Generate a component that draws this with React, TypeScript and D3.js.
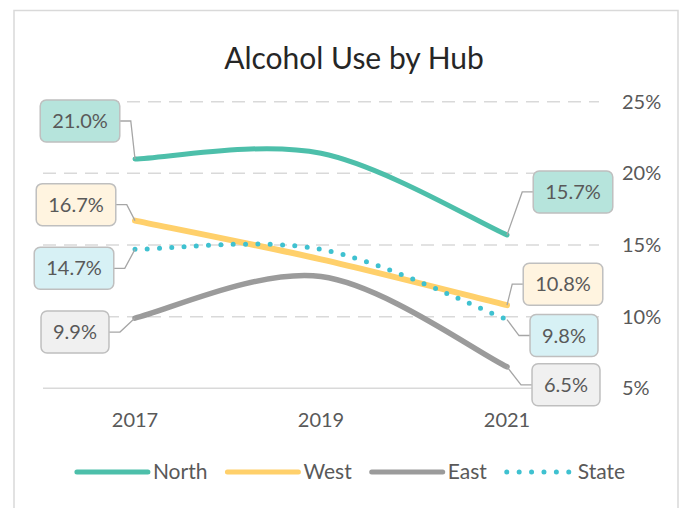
import { useRef, useEffect } from 'react';
import { select, scalePoint, scaleLinear, path } from 'd3';

const years = ['2017', '2019', '2021'];
const north = [21.0, 21.4, 15.7];
const west = [16.7, 14.0, 10.8];
const east = [9.9, 12.8, 6.5];
const state = [14.7, 14.7, 9.8];
const yTicks = [5, 10, 15, 20, 25];

const series = [
  { name: 'North', values: north, color: '#4dbfaa', fill: '#b6e4dc', width: 5, dotted: false },
  { name: 'West', values: west, color: '#ffd06b', fill: '#fff4e0', width: 6, dotted: false },
  { name: 'East', values: east, color: '#9b9b9b', fill: '#f0f0f0', width: 5.5, dotted: false },
  { name: 'State', values: state, color: '#3fc1d0', fill: '#d7f1f5', width: 5, dotted: true },
];

// label box centre relative to its point: [first year, last year]
const labelOffsets: Record<string, [number, number][]> = {
  North: [[-55, -38], [66, -43]],
  West: [[-59, -16], [56, -21]],
  East: [[-60, 14], [59, 18]],
  State: [[-61, 19], [57, 16]],
};

const FONT = 'Lato, "Open Sans", sans-serif';
const TEXT = '#595959';

// excel style smoothing: bezier with catmull-rom control points
const smoothPath = (pts: [number, number][]) => {
  const p = path();
  p.moveTo(pts[0][0], pts[0][1]);
  for (let i = 0; i < pts.length - 1; i++) {
    const p0 = pts[Math.max(i - 1, 0)];
    const p1 = pts[i];
    const p2 = pts[i + 1];
    const p3 = pts[Math.min(i + 2, pts.length - 1)];
    p.bezierCurveTo(
      p1[0] + (p2[0] - p0[0]) / 6,
      p1[1] + (p2[1] - p0[1]) / 6,
      p2[0] - (p3[0] - p1[0]) / 6,
      p2[1] - (p3[1] - p1[1]) / 6,
      p2[0],
      p2[1]
    );
  }
  return p.toString();
};

const App = () => {
  const ref = useRef<SVGSVGElement>(null);

  useEffect(() => {
    if (!ref.current) return;
    const svg = select(ref.current);
    svg.selectAll('*').remove();

    const x = scalePoint<string>().domain(years).range([42, 600]).padding(0.5);
    const y = scaleLinear().domain([5, 25]).range([388.3, 101.7]);

    svg
      .append('rect')
      .attr('x', 14)
      .attr('y', 10.5)
      .attr('width', 664)
      .attr('height', 520)
      .attr('fill', '#fff')
      .attr('stroke', '#d9d9d9')
      .attr('stroke-width', 1.5);

    svg
      .append('text')
      .attr('x', 354)
      .attr('y', 69)
      .attr('text-anchor', 'middle')
      .attr('font-family', FONT)
      .attr('font-size', 30)
      .attr('fill', '#262626')
      .text('Alcohol Use by Hub');

    // gridlines + axis line
    svg
      .append('g')
      .selectAll('line')
      .data(yTicks)
      .join('line')
      .attr('x1', 43)
      .attr('x2', 599)
      .attr('y1', (d) => y(d))
      .attr('y2', (d) => y(d))
      .attr('stroke', '#d9d9d9')
      .attr('stroke-width', 1.5)
      .attr('stroke-dasharray', (d) => (d === 5 ? null : '13 8'));

    svg
      .append('g')
      .selectAll('text')
      .data(yTicks)
      .join('text')
      .attr('x', 622)
      .attr('y', (d) => y(d) + 7)
      .attr('font-family', FONT)
      .attr('font-size', 20)
      .attr('fill', TEXT)
      .text((d) => `${d}%`);

    svg
      .append('g')
      .selectAll('text')
      .data(years)
      .join('text')
      .attr('x', (d) => x(d)!)
      .attr('y', 426.5)
      .attr('text-anchor', 'middle')
      .attr('font-family', FONT)
      .attr('font-size', 20)
      .attr('fill', TEXT)
      .text((d) => d);

    // lines
    series.forEach((s) => {
      const pts = s.values.map((v, i) => [x(years[i])!, y(v)] as [number, number]);
      svg
        .append('path')
        .attr('d', smoothPath(pts))
        .attr('fill', 'none')
        .attr('stroke', s.color)
        .attr('stroke-width', s.width)
        .attr('stroke-linecap', 'round')
        .attr('stroke-dasharray', s.dotted ? '0 12.3' : null);
    });

    // data labels at first and last year
    series.forEach((s) => {
      const ends = [0, s.values.length - 1];
      ends.forEach((idx, k) => {
        const px = x(years[idx])!;
        const py = y(s.values[idx]);
        const [dx, dy] = labelOffsets[s.name][k];
        const cx = px + dx;
        const cy = py + dy;
        const g = svg.append('g');
        const leader = g.append('path');
        const box = g.append('rect');
        const txt = g
          .append('text')
          .attr('x', cx)
          .attr('y', cy + 7)
          .attr('text-anchor', 'middle')
          .attr('font-family', FONT)
          .attr('font-size', 20)
          .attr('fill', TEXT)
          .text(`${s.values[idx].toFixed(1)}%`);
        const tw = (txt.node() as SVGTextElement).getComputedTextLength();
        const bw = tw + 24;
        const bh = 42;
        box
          .attr('x', cx - bw / 2)
          .attr('y', cy - bh / 2)
          .attr('width', bw)
          .attr('height', bh)
          .attr('rx', 6)
          .attr('fill', s.fill)
          .attr('stroke', '#bfbfbf')
          .attr('stroke-width', 1.5);
        const edge = k === 0 ? cx + bw / 2 : cx - bw / 2;
        const elbow = k === 0 ? edge + 11 : edge - 11;
        leader
          .attr('d', `M${edge},${cy}H${elbow}L${px},${py}`)
          .attr('fill', 'none')
          .attr('stroke', '#a6a6a6')
          .attr('stroke-width', 1.3);
      });
    });

    // legend
    const legend = svg.append('g');
    const items = series.map((s) => {
      const g = legend.append('g');
      const lineEnd = s.dotted ? 62 : 71;
      g.append('line')
        .attr('x1', 0)
        .attr('x2', lineEnd)
        .attr('y1', 472)
        .attr('y2', 472)
        .attr('stroke', s.color)
        .attr('stroke-width', 5)
        .attr('stroke-linecap', 'round')
        .attr('stroke-dasharray', s.dotted ? '0 12.4' : null);
      const tx = lineEnd + (s.dotted ? 9 : 5);
      const t = g
        .append('text')
        .attr('x', tx)
        .attr('y', 479)
        .attr('font-family', FONT)
        .attr('font-size', 21)
        .attr('fill', TEXT)
        .text(s.name);
      const w = tx + (t.node() as SVGTextElement).getComputedTextLength();
      return { g, w };
    });
    const gap = 20;
    const total = items.reduce((a, b) => a + b.w, 0) + gap * (items.length - 1);
    let cursor = 351 - total / 2;
    items.forEach((it) => {
      it.g.attr('transform', `translate(${cursor},0)`);
      cursor += it.w + gap;
    });
  }, []);

  return (
    <svg
      ref={ref}
      width={683}
      height={508}
      style={{ position: 'absolute', left: 0, top: 0, background: '#fff' }}
    />
  );
};

export default App;
